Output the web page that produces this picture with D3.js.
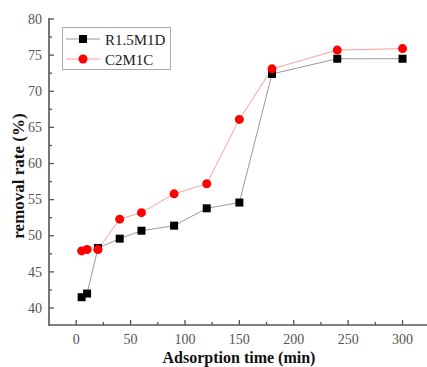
<!DOCTYPE html>
<html><head><meta charset="utf-8">
<script src="https://cdn.jsdelivr.net/npm/d3@7"></script>
<style>body{margin:0;background:#fff}svg{display:block}</style>
</head><body>
<script>
const times = [5, 10, 20, 40, 60, 90, 120, 150, 180, 240, 300];
const seriesNames = ["R1.5M1D", "C2M1C"];
const r15m1d = [41.5, 42.0, 48.3, 49.6, 50.7, 51.4, 53.8, 54.6, 72.4, 74.5, 74.5];
const c2m1c = [47.9, 48.1, 48.1, 52.3, 53.2, 55.8, 57.2, 66.1, 73.1, 75.7, 75.9];
const xTicks = [0, 50, 100, 150, 200, 250, 300];
const yTicks = [40, 45, 50, 55, 60, 65, 70, 75, 80];

const W = 427, H = 367;
const L = 49, R = 427, T = 19, B = 325;
const svg = d3.select("body").append("svg").attr("width", W).attr("height", H);
const x = d3.scaleLinear().domain([-25, 322.5]).range([L, R]);
const y = d3.scaleLinear().domain([37.65, 80]).range([B, T]);

const font = "Liberation Serif";
const axisCol = "#555";

// x axis
const xa = svg.append("g").attr("transform", `translate(0,${B})`);
xa.append("line").attr("x1", L).attr("x2", R).attr("stroke", axisCol).attr("stroke-width", 1.6);
d3.range(0, 326, 25).forEach(v => {
  const major = v % 50 === 0;
  xa.append("line").attr("x1", x(v)).attr("x2", x(v)).attr("y1", 0).attr("y2", major ? -5 : -3)
    .attr("stroke", axisCol).attr("stroke-width", 1.3);
});
xa.selectAll("text.tl").data(xTicks).enter().append("text")
  .attr("x", d => x(d)).attr("y", 18.5).attr("text-anchor", "middle")
  .attr("font-family", font).attr("font-size", 14).attr("fill", "#555").text(d => d);

// y axis
const ya = svg.append("g").attr("transform", `translate(${L},0)`);
ya.append("line").attr("y1", T - 1).attr("y2", B + 1).attr("stroke", axisCol).attr("stroke-width", 1.6);
d3.range(40, 80.01, 2.5).forEach(v => {
  const major = v % 5 === 0;
  ya.append("line").attr("y1", y(v)).attr("y2", y(v)).attr("x1", 0).attr("x2", major ? 5 : 3)
    .attr("stroke", axisCol).attr("stroke-width", 1.3);
});
ya.selectAll("text.tl").data(yTicks).enter().append("text")
  .attr("x", -7).attr("y", d => y(d) + 4.7).attr("text-anchor", "end")
  .attr("font-family", font).attr("font-size", 14).attr("fill", "#555").text(d => d);

// titles
svg.append("text").attr("x", 239).attr("y", 363).attr("text-anchor", "middle")
  .attr("font-family", font).attr("font-size", 16).attr("font-weight", "bold").attr("fill", "#111")
  .text("Adsorption time (min)");
svg.append("text").attr("transform", `translate(24,176) rotate(-90)`).attr("text-anchor", "middle")
  .attr("font-family", font).attr("font-size", 17).attr("font-weight", "bold").attr("fill", "#111")
  .text("removal rate (%)");

// lines
const line = vals => d3.line().x((d, i) => x(times[i])).y(d => y(d))(vals);
svg.append("path").attr("d", line(r15m1d)).attr("fill", "none").attr("stroke", "#999").attr("stroke-width", 1);
svg.append("path").attr("d", line(c2m1c)).attr("fill", "none").attr("stroke", "#f9a0a0").attr("stroke-width", 1);

// markers
svg.selectAll("rect.m").data(r15m1d).enter().append("rect")
  .attr("x", (d, i) => x(times[i]) - 4).attr("y", d => y(d) - 4).attr("width", 8).attr("height", 8).attr("fill", "#000");
svg.selectAll("circle.m").data(c2m1c).enter().append("circle")
  .attr("cx", (d, i) => x(times[i])).attr("cy", d => y(d)).attr("r", 4.5).attr("fill", "#ff0000");

// legend
const lg = svg.append("g");
lg.append("rect").attr("x", 62.5).attr("y", 27.5).attr("width", 108).attr("height", 42)
  .attr("fill", "#fff").attr("stroke", "#aaa").attr("stroke-width", 1);
[0, 1].forEach(i => {
  const yy = 39 + i * 20;
  lg.append("line").attr("x1", 66).attr("x2", 100).attr("y1", yy).attr("y2", yy)
    .attr("stroke", i === 0 ? "#999" : "#f9a0a0").attr("stroke-width", 1);
  if (i === 0) lg.append("rect").attr("x", 79).attr("y", yy - 4).attr("width", 8).attr("height", 8).attr("fill", "#000");
  else lg.append("circle").attr("cx", 83).attr("cy", yy).attr("r", 4.5).attr("fill", "#ff0000");
  lg.append("text").attr("x", 105).attr("y", yy + 5.5).attr("font-family", font).attr("font-size", 15)
    .attr("fill", "#222").text(seriesNames[i]);
});
</script>
</body></html>
